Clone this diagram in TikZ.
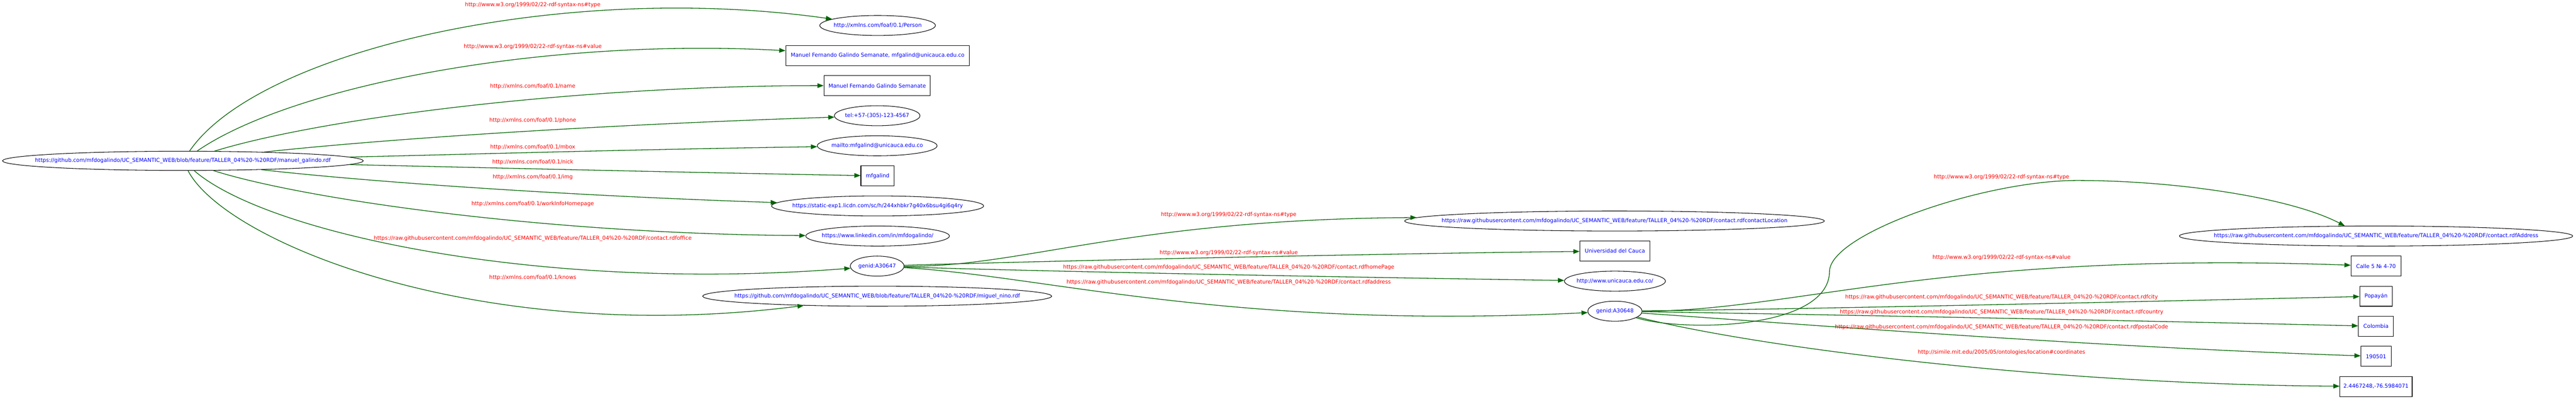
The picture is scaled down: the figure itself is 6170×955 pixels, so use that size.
\documentclass[tikz,border=0pt]{standalone}
\usepackage{fontspec}
\setmainfont{DejaVu Sans}
\usetikzlibrary{arrows.meta,shapes.geometric}
\definecolor{edgegreen}{RGB}{0,100,0}
\definecolor{nodeblue}{RGB}{0,0,255}
\definecolor{labelred}{RGB}{255,0,0}
\begin{document}
\begin{tikzpicture}[x=1pt,y=-1pt,
  every node/.style={font=\fontsize{12.85}{15}\selectfont, inner sep=0pt},
  ell/.style={ellipse, draw=black, line width=1.3pt, text=nodeblue, minimum height=48pt},
  lit/.style={rectangle, draw=black, line width=1.3pt, text=nodeblue, minimum height=48pt},
  lbl/.style={text=labelred},
  rel/.style={draw=edgegreen, line width=1.6pt, -{Triangle[length=15pt,width=11pt]}}
]
\useasboundingbox (0,0) rectangle (6170,955);
% root
\node[ell, minimum width=864pt, minimum height=46pt] (root) at (438,385) {\makebox[0pt]{https://github.com/mfdogalindo/UC\_SEMANTIC\_WEB/blob/feature/TALLER\_04\%20-\%20RDF/manuel\_galindo.rdf}};
% first column
\node[ell, minimum width=277pt] (person) at (2102,61) {\makebox[0pt]{http://xmlns.com/foaf/0.1/Person}};
\node[lit, minimum width=440pt] (valbox) at (2102,133) {Manuel Fernando Galindo Semanate, mfgalind@unicauca.edu.co};
\node[lit, minimum width=255pt] (namebox) at (2101,205) {Manuel Fernando Galindo Semanate};
\node[ell, minimum width=205pt] (tel) at (2101,277) {\makebox[0pt]{tel:+57-(305)-123-4567}};
\node[ell, minimum width=287pt] (mailto) at (2101,349) {\makebox[0pt]{mailto:mfgalind@unicauca.edu.co}};
\node[lit, minimum width=80pt] (nickbox) at (2102,421) {mfgalind};
\node[ell, minimum width=508pt] (static) at (2102,493) {\makebox[0pt]{https://static-exp1.licdn.com/sc/h/244xhbkr7g40x6bsu4gi6q4ry}};
\node[ell, minimum width=344pt] (linkedin) at (2102,565) {\makebox[0pt]{https://www.linkedin.com/in/mfdogalindo/}};
\node[ell, minimum width=129pt] (g47) at (2101,637) {\makebox[0pt]{genid:A30647}};
\node[ell, minimum width=836pt] (miguel) at (2101,709) {\makebox[0pt]{https://github.com/mfdogalindo/UC\_SEMANTIC\_WEB/blob/feature/TALLER\_04\%20-\%20RDF/miguel\_nino.rdf}};
% second column
\node[ell, minimum width=1005pt] (location) at (3867,529) {\makebox[0pt]{https://raw.githubusercontent.com/mfdogalindo/UC\_SEMANTIC\_WEB/feature/TALLER\_04\%20-\%20RDF/contact.rdfcontactLocation}};
\node[lit, minimum width=168pt] (univ) at (3868,601) {Universidad del Cauca};
\node[ell, minimum width=242pt] (unicauca) at (3868,673) {\makebox[0pt]{http://www.unicauca.edu.co/}};
\node[ell, minimum width=130pt] (g48) at (3868,745) {\makebox[0pt]{genid:A30648}};
% third column
\node[ell, minimum width=942pt] (address) at (5691,565) {\makebox[0pt]{https://raw.githubusercontent.com/mfdogalindo/UC\_SEMANTIC\_WEB/feature/TALLER\_04\%20-\%20RDF/contact.rdfAddress}};
\node[lit, minimum width=120pt] (calle) at (5691,637) {Calle 5 № 4-70};
\node[lit, minimum width=78pt] (popayan) at (5691,709) {Popayán};
\node[lit, minimum width=84pt] (colombia) at (5691,781) {Colombia};
\node[lit, minimum width=72pt] (postal) at (5691,853) {190501};
\node[lit, minimum width=173pt] (coords) at (5691,925) {2.4467248,-76.5984071};
% root edges
\draw[rel] (root) .. controls (620,120) and (1350,-45) .. (person);
\draw[rel] (root) .. controls (700,205) and (1300,90) .. (valbox);
\draw[rel] (root) .. controls (780,280) and (1400,205) .. (namebox);
\draw[rel] (root) .. controls (900,335) and (1400,300) .. (tel);
\draw[rel] (root) .. controls (1100,370) and (1500,358) .. (mailto);
\draw[rel] (root) .. controls (1100,400) and (1600,412) .. (nickbox);
\draw[rel] (root) .. controls (880,435) and (1350,468) .. (static);
\draw[rel] (root) .. controls (720,475) and (1300,560) .. (linkedin);
\draw[rel] (root) .. controls (640,560) and (1300,700) .. (g47);
\draw[rel] (root) .. controls (540,580) and (1150,830) .. (miguel);
% root edge labels
\node[lbl] (l1) at (1276,12) {http://www.w3.org/1999/02/22-rdf-syntax-ns\#type};
\node[lbl] (l2) at (1276,112) {http://www.w3.org/1999/02/22-rdf-syntax-ns\#value};
\node[lbl] (l3) at (1276,207) {http://xmlns.com/foaf/0.1/name};
\node[lbl] (l4) at (1276,288) {http://xmlns.com/foaf/0.1/phone};
\node[lbl] (l5) at (1276,352) {http://xmlns.com/foaf/0.1/mbox};
\node[lbl] (l6) at (1276,388) {http://xmlns.com/foaf/0.1/nick};
\node[lbl] (l7) at (1276,424) {http://xmlns.com/foaf/0.1/img};
\node[lbl] (l8) at (1276,488) {http://xmlns.com/foaf/0.1/workInfoHomepage};
\node[lbl] (l9) at (1276,571) {https://raw.githubusercontent.com/mfdogalindo/UC\_SEMANTIC\_WEB/feature/TALLER\_04\%20-\%20RDF/contact.rdfoffice};
\node[lbl] (l10) at (1276,665) {http://xmlns.com/foaf/0.1/knows};
% genid A30647 edges
\draw[rel] (g47) .. controls (2450,640) and (2700,525) .. (location.179);
\draw[rel] (g47) .. controls (2500,625) and (3300,607) .. (univ);
\draw[rel] (g47) .. controls (2500,650) and (3300,665) .. (unicauca);
\draw[rel] (g47) .. controls (2500,660) and (2950,790) .. (g48);
\node[lbl] (m1) at (2943,514) {http://www.w3.org/1999/02/22-rdf-syntax-ns\#type};
\node[lbl] (m2) at (2943,605) {http://www.w3.org/1999/02/22-rdf-syntax-ns\#value};
\node[lbl] (m3) at (2943,640) {https://raw.githubusercontent.com/mfdogalindo/UC\_SEMANTIC\_WEB/feature/TALLER\_04\%20-\%20RDF/contact.rdfhomePage};
\node[lbl] (m4) at (2943,676) {https://raw.githubusercontent.com/mfdogalindo/UC\_SEMANTIC\_WEB/feature/TALLER\_04\%20-\%20RDF/contact.rdfaddress};
% genid A30648 edges
\draw[rel] (g48) .. controls (4030,795) and (4380,790) .. (4382,650) .. controls (4382,560) and (4750,432) .. (4975,432) .. controls (5200,432) and (5480,470) .. (address.162.5);
\draw[rel] (g48) .. controls (4300,745) and (4650,600) .. (calle);
\draw[rel] (g48) .. controls (4300,740) and (5000,725) .. (popayan);
\draw[rel] (g48) .. controls (4300,752) and (5000,765) .. (colombia);
\draw[rel] (g48) .. controls (4300,775) and (5000,830) .. (postal);
\draw[rel] (g48) .. controls (4200,830) and (4900,920) .. (coords);
\node[lbl] (n1) at (4794,424) {http://www.w3.org/1999/02/22-rdf-syntax-ns\#type};
\node[lbl] (n2) at (4794,617) {http://www.w3.org/1999/02/22-rdf-syntax-ns\#value};
\node[lbl] (n3) at (4794,712) {https://raw.githubusercontent.com/mfdogalindo/UC\_SEMANTIC\_WEB/feature/TALLER\_04\%20-\%20RDF/contact.rdfcity};
\node[lbl] (n4) at (4794,747) {https://raw.githubusercontent.com/mfdogalindo/UC\_SEMANTIC\_WEB/feature/TALLER\_04\%20-\%20RDF/contact.rdfcountry};
\node[lbl] (n5) at (4794,783) {https://raw.githubusercontent.com/mfdogalindo/UC\_SEMANTIC\_WEB/feature/TALLER\_04\%20-\%20RDF/contact.rdfpostalCode};
\node[lbl] (n6) at (4794,844) {http://simile.mit.edu/2005/05/ontologies/location\#coordinates};
\end{tikzpicture}
\end{document}
